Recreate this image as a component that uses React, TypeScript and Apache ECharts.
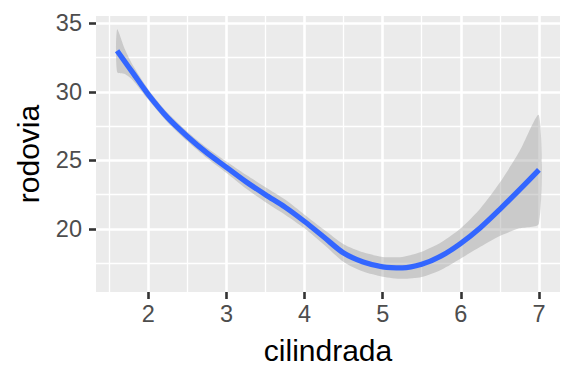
import React, { useEffect, useRef } from "react";
import * as echarts from "echarts";

// cilindrada (displ) grid where the loess fit was read
const displ = [1.6, 1.7, 1.8, 2.0, 2.25, 2.5, 2.75, 3.0, 3.25, 3.5, 3.75, 4.0, 4.25, 4.5, 4.75, 5.0, 5.25, 5.5, 5.75, 6.0, 6.25, 6.5, 6.75, 7.0];
// fitted rodovia (hwy)
const hwyFit = [33.0, 32.2, 31.4, 29.8, 28.1, 26.75, 25.55, 24.5, 23.45, 22.5, 21.6, 20.55, 19.4, 18.25, 17.6, 17.25, 17.17, 17.43, 18.04, 18.96, 20.1, 21.44, 22.85, 24.31];
// confidence band
const ciLower = [31.45, 31.3, 30.85, 29.42, 27.75, 26.4, 25.17, 24.08, 22.95, 21.95, 21.05, 20.05, 18.85, 17.6, 16.9, 16.53, 16.37, 16.51, 17.04, 17.86, 18.7, 19.49, 20.05, 20.41];
const ciUpper = [34.55, 33.1, 31.95, 30.18, 28.45, 27.1, 25.93, 24.92, 23.95, 23.05, 22.15, 21.05, 19.95, 18.9, 18.3, 17.97, 17.97, 18.35, 19.04, 20.06, 21.5, 23.39, 25.65, 28.3];

const xBreaks = [2, 3, 4, 5, 6, 7];
const xMinorBreaks = [1.5, 2.5, 3.5, 4.5, 5.5, 6.5];
const yBreaks = [20, 25, 30, 35];
const yMinorBreaks = [17.5, 22.5, 27.5, 32.5];
const xRange = [1.33, 7.27];
const yRange = [15.41, 35.53];

const FONT = "Liberation Sans, Arial, Helvetica, sans-serif";

export default function App() {
  const ref = useRef<HTMLDivElement>(null);
  useEffect(() => {
    if (!ref.current) return;
    const chart = echarts.init(ref.current, undefined, { renderer: "svg" });
    const majorAxisX = {
      type: "value",
      position: "bottom",
      min: xRange[0],
      max: xRange[1],
      axisLine: { show: false },
      axisTick: {
        show: true,
        length: 7,
        customValues: xBreaks,
        lineStyle: { color: "#333333", width: 2.6 },
      },
      axisLabel: {
        customValues: xBreaks,
        color: "#4D4D4D",
        fontSize: 23.5,
        fontFamily: FONT,
        margin: 10,
      },
      splitLine: { show: true, lineStyle: { color: "#FFFFFF", width: 2.6 } },
      name: "cilindrada",
      nameLocation: "middle",
      nameGap: 43,
      nameTextStyle: { color: "#000000", fontSize: 30, fontFamily: FONT },
    };
    const minorAxisX = {
      type: "value",
      position: "bottom",
      min: xRange[0],
      max: xRange[1],
      axisLine: { show: false },
      axisTick: { show: false, customValues: xMinorBreaks },
      axisLabel: { show: false, customValues: xMinorBreaks },
      splitLine: { show: true, lineStyle: { color: "#FFFFFF", width: 1.3 } },
    };
    const majorAxisY = {
      type: "value",
      position: "left",
      min: yRange[0],
      max: yRange[1],
      axisLine: { show: false },
      axisTick: {
        show: true,
        length: 7,
        customValues: yBreaks,
        lineStyle: { color: "#333333", width: 2.6 },
      },
      axisLabel: {
        customValues: yBreaks,
        color: "#4D4D4D",
        fontSize: 23.5,
        fontFamily: FONT,
        margin: 14,
      },
      splitLine: { show: true, lineStyle: { color: "#FFFFFF", width: 2.6 } },
      name: "rodovia",
      nameLocation: "middle",
      nameGap: 53,
      nameRotate: 90,
      nameTextStyle: { color: "#000000", fontSize: 30, fontFamily: FONT },
    };
    const minorAxisY = {
      type: "value",
      position: "left",
      min: yRange[0],
      max: yRange[1],
      axisLine: { show: false },
      axisTick: { show: false, customValues: yMinorBreaks },
      axisLabel: { show: false, customValues: yMinorBreaks },
      splitLine: { show: true, lineStyle: { color: "#FFFFFF", width: 1.3 } },
    };
    chart.setOption({
      animation: false,
      backgroundColor: "#FFFFFF",
      grid: {
        left: 96,
        right: 16,
        top: 16,
        bottom: 92,
        show: true,
        backgroundColor: "#EBEBEB",
        borderWidth: 0,
        containLabel: false,
        outerBoundsMode: "none",
      },
      xAxis: [minorAxisX, majorAxisX],
      yAxis: [minorAxisY, majorAxisY],
      series: [
        {
          type: "custom",
          xAxisIndex: 1,
          yAxisIndex: 1,
          silent: true,
          data: displ.map((x, i) => [x, ciLower[i], ciUpper[i]]),
          encode: { x: 0, y: [1, 2] },
          renderItem: (params: any, api: any) => {
            if (params.dataIndex !== 0) return null;
            const up: number[][] = [];
            const lo: number[][] = [];
            for (let i = 0; i < displ.length; i++) {
              up.push(api.coord([displ[i], ciUpper[i]]));
              lo.push(api.coord([displ[i], ciLower[i]]));
            }
            return {
              type: "polygon",
              shape: { points: up.concat(lo.reverse()), smooth: 0.25 },
              style: { fill: "rgba(153,153,153,0.4)", stroke: "none" },
            };
          },
        },
        {
          type: "line",
          xAxisIndex: 1,
          yAxisIndex: 1,
          data: displ.map((x, i) => [x, hwyFit[i]]),
          showSymbol: false,
          smooth: 0.3,
          lineStyle: { color: "#3366FF", width: 5.3, cap: "butt" },
          silent: true,
        },
      ],
    });
    return () => chart.dispose();
  }, []);
  return (
    <div
      ref={ref}
      style={{ position: "fixed", left: 0, top: 0, width: 576, height: 384 }}
    />
  );
}
